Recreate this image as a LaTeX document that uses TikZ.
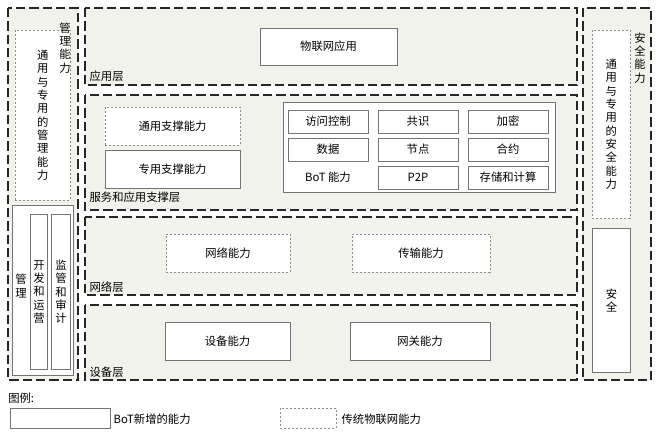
\documentclass[tikz,border=0pt]{standalone}
\usepackage{fontspec}
\setmainfont{Liberation Serif}
\newfontfamily\cjk{Noto Sans CJK SC}
\begin{document}
\begin{tikzpicture}[x=0.75pt,y=-0.75pt,font=\cjk\fontsize{8.5}{10}\selectfont,
  region/.style={draw=black!85,line width=1.3pt,dash pattern=on 7pt off 3pt,fill={rgb,255:red,242;green,242;blue,236}},
  newbox/.style={draw=black!55,line width=0.7pt,fill=white},
  oldbox/.style={draw=black!45,line width=0.6pt,dash pattern=on 1.5pt off 1.5pt,fill=white},
  lbl/.style={anchor=south west,inner sep=1pt},
  vtext/.style={align=center,font=\cjk\fontsize{8.5}{10}\selectfont}]
\useasboundingbox (0,0) rectangle (659,435);
\fill[white] (0,0) rectangle (659,435);
% left column
\draw[region] (8,8) rectangle (78,380);
\node[oldbox,anchor=north west,minimum width=41.25pt,minimum height=127.5pt] (lg) at (15,30) {};
\node[vtext] (lgt) at (lg.center) {通\\用\\与\\专\\用\\的\\管\\理\\能\\力};
\node[vtext,anchor=north] (lct) at (65,18) {管\\理\\能\\力};
\node[newbox,anchor=north west,minimum width=45.75pt,minimum height=127.5pt] (mg) at (12,205) {};
\node[vtext] (mgt) at (21,286) {管\\理};
\node[newbox,anchor=north west,minimum width=12.75pt,minimum height=116pt] (dev) at (30,214) {};
\node[vtext] at (dev.center) {开\\发\\和\\运\\营};
\node[newbox,anchor=north west,minimum width=14.25pt,minimum height=116pt] (aud) at (51,214) {};
\node[vtext] at (aud.center) {监\\管\\和\\审\\计};
% right column
\draw[region] (583,8) rectangle (651,380);
\node[oldbox,anchor=north west,minimum width=28.5pt,minimum height=141pt] (sg) at (592,30) {};
\node[vtext] at (sg.center) {通\\用\\与\\专\\用\\的\\安\\全\\能\\力};
\node[vtext,anchor=north] (rct) at (640,28) {安\\全\\能\\力};
\node[newbox,anchor=north west,minimum width=28.5pt,minimum height=108pt] (sec) at (592,228) {};
\node[vtext] at (sec.center) {安\\全};
% application layer
\draw[region] (85,8) rectangle (577,85);
\node[newbox,minimum width=102.75pt,minimum height=27.75pt] (app) at (328.5,46.5) {物联网应用};
\node[lbl] at (88,83) {应用层};
% service layer
\draw[region] (85,95) rectangle (577,210);
\node[oldbox,minimum width=101.25pt,minimum height=28.5pt] (gs) at (172.5,126) {通用支撑能力};
\node[newbox,minimum width=101.25pt,minimum height=28.5pt] (ss) at (172.5,169) {专用支撑能力};
\node[lbl] at (88,204) {服务和应用支撑层};
\node[newbox,anchor=north west,minimum width=204pt,minimum height=67.5pt] (bot) at (283,102) {};
\foreach \t/\x/\y/\n in {访问控制/328/121.5/a1,共识/418/121.5/a2,加密/508/121.5/a3,
  数据/328/149.5/b1,节点/418/149.5/b2,合约/508/149.5/b3,P2P/418/177.5/c2,存储和计算/508/177.5/c3}
  \node[newbox,minimum width=60pt,minimum height=17.25pt] (\n) at (\x,\y) {\t};
\node (c1) at (328,177.5) {BoT 能力};
% network layer
\draw[region] (85,217) rectangle (577,295);
\node[oldbox,minimum width=93pt,minimum height=28.5pt] (net) at (228,253) {网络能力};
\node[oldbox,minimum width=103.5pt,minimum height=28.5pt] (tr) at (421,253) {传输能力};
\node[lbl] at (88,294) {网络层};
% device layer
\draw[region] (85,305) rectangle (577,380);
\node[newbox,minimum width=93.75pt,minimum height=28.5pt] (devc) at (227.5,341) {设备能力};
\node[newbox,minimum width=105pt,minimum height=28.5pt] (gw) at (420,341) {网关能力};
\node[lbl] at (88,379) {设备层};
% legend
\node[anchor=west,inner sep=0] (lg0) at (8,398) {图例:};
\node[newbox,anchor=north west,minimum width=75pt,minimum height=15pt] (l1) at (10,408) {};
\node[anchor=west,inner sep=1pt] at (112,419) {BoT新增的能力};
\node[oldbox,anchor=north west,minimum width=42pt,minimum height=15pt] (l2) at (280,408) {};
\node[anchor=west,inner sep=1pt] at (340,419) {传统物联网能力};
\end{tikzpicture}
\end{document}
